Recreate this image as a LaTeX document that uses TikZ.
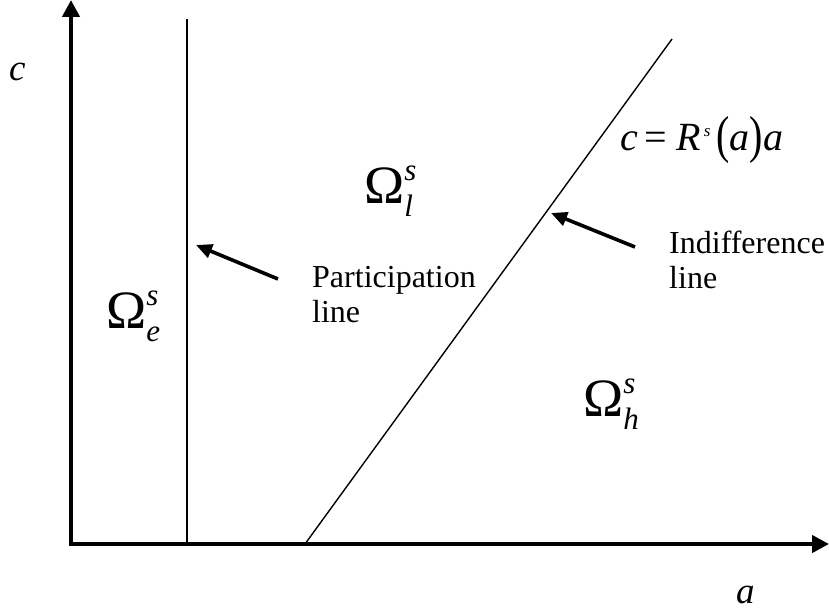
\documentclass[tikz,border=0pt]{standalone}
\usepackage{fontspec}
\setmainfont{Liberation Serif}
\usetikzlibrary{arrows.meta}
\newcommand{\OmReg}[1]{{\fontsize{54}{54}\selectfont Ω}{\fontsize{31}{31}\selectfont\itshape\rlap{\raisebox{23pt}{s}}\raisebox{-13pt}{#1}}}
\tikzset{
  axisline/.style={line width=4.2pt, -{Triangle[width=17pt,length=17pt]}},
  thinline/.style={line width=1.4pt},
  pointer/.style={line width=3.6pt, -{Triangle[width=14pt,length=16pt]}},
  lbl/.style={anchor=base west, inner sep=0pt, font=\fontsize{32}{35}\selectfont, align=left},
  mathlbl/.style={anchor=base west, inner sep=0pt, font=\fontsize{37}{37}\selectfont\itshape},
  eqlbl/.style={anchor=base west, inner sep=0pt, font=\fontsize{40}{40}\selectfont\itshape},
  region/.style={anchor=base west, inner sep=0pt},
}
\begin{document}
\begin{tikzpicture}[x=1pt,y=-1pt]
\useasboundingbox (0,0) rectangle (829,610);
% axes
\coordinate (O) at (71,544);
\coordinate (Ocorner) at (71,546.1);
\coordinate (Ytop) at (71,0);
\coordinate (Xend) at (829,544);
\draw[axisline] (Ocorner) -- (Ytop);
\draw[axisline] (69,544) -- (Xend);
% participation line
\coordinate (P0) at (187,544);
\coordinate (P1) at (187,19);
\draw[thinline] (P0) -- (P1);
% indifference line
\coordinate (I0) at (305,544);
\coordinate (I1) at (672,39);
\draw[thinline] (I0) -- (I1);
% axis labels
\node[mathlbl] (clab) at (9,80) {c};
\node[mathlbl] (alab) at (736,603) {a};
% regions
\node[region] (Oe) at (106,328) {\OmReg{e}};
\node[region] (Ol) at (364,203) {\OmReg{l}};
\node[region] (Oh) at (583,416) {\OmReg{h}};
% equation
\node[eqlbl] (eq) at (620,150) {c\hspace{7pt}{\upshape =}\hspace{9pt}R\hspace{3pt}\raisebox{14pt}{\fontsize{17}{17}\selectfont s}\hspace{6pt}\raisebox{-2pt}{\scalebox{1}[1.3]{\upshape(}}a\raisebox{-2pt}{\scalebox{1}[1.3]{\upshape)}}a};
% text labels
\node[lbl] (plab) at (312,322) {Participation\\line};
\node[lbl] (ilab) at (669,288) {Indifference\\line};
% pointers
\coordinate (pt1) at (278,279);
\coordinate (ph1) at (196,245);
\coordinate (pt2) at (635,247);
\coordinate (ph2) at (551,213);
\draw[pointer] (pt1) -- (ph1);
\draw[pointer] (pt2) -- (ph2);
\end{tikzpicture}
\end{document}
